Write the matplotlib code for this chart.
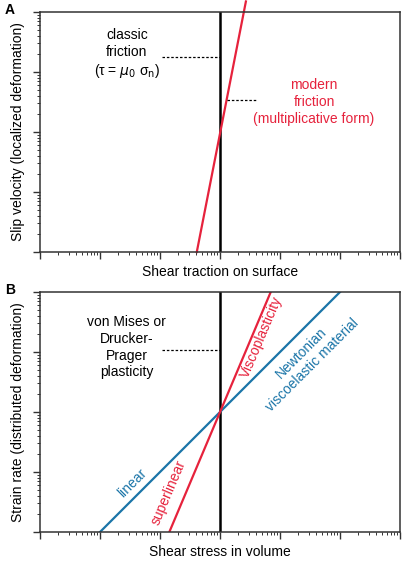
"""Friction vs. flow laws: two log-log sketches (A, B)."""

import matplotlib
import matplotlib.pyplot as plt
from matplotlib.ticker import LogLocator, NullFormatter

matplotlib.use("Agg")

plt.rcParams["font.family"] = ["Liberation Sans", "DejaVu Sans"]
plt.rcParams["font.size"] = 10

RED = "#e6223c"
BLUE = "#1b75a8"

# panel A
friction_x = [410, 2700]
friction_y = [1, 15000]
threshold_a_x = [1000, 1000]
threshold_a_y = [1, 10000]
classic_guide_x = [107, 1000]
classic_guide_y = [1760, 1760]
modern_guide_x = [1290, 4200]
modern_guide_y = [340, 340]

# panel B
linear_x = [10, 100000]
linear_y = [1, 10000]
superlinear_x = [143, 7000]
superlinear_y = [1, 10000]
threshold_b_x = [1000, 1000]
threshold_b_y = [1, 10000]
plastic_guide_x = [107, 1000]
plastic_guide_y = [1070, 1070]

fig = plt.figure(figsize=(4.16, 5.61), dpi=100)
ax_a = fig.add_axes([0.0962, 0.5508, 0.8654, 0.4278])
ax_b = fig.add_axes([0.0962, 0.0517, 0.8654, 0.4278])


def _style(ax, xlabel, ylabel):
    ax.set_xscale("log")
    ax.set_yscale("log")
    ax.set_xlim(1, 1e6)
    ax.set_ylim(1, 1e4)
    ax.xaxis.set_major_locator(LogLocator(base=10, numticks=20))
    ax.yaxis.set_major_locator(LogLocator(base=10, numticks=20))
    ax.xaxis.set_minor_locator(LogLocator(base=10, subs=range(2, 10), numticks=20))
    ax.yaxis.set_minor_locator(LogLocator(base=10, subs=range(2, 10), numticks=20))
    for axis in (ax.xaxis, ax.yaxis):
        axis.set_major_formatter(NullFormatter())
        axis.set_minor_formatter(NullFormatter())
    ax.tick_params(which="both", top=False, right=False, direction="out")
    ax.tick_params(which="major", length=5, width=1, color="#333333")
    ax.tick_params(which="minor", length=2.2, width=0.7, color="#333333")
    for spine in ax.spines.values():
        spine.set_color("#333333")
        spine.set_linewidth(1.1)
    ax.set_xlabel(xlabel, labelpad=1)
    ax.set_ylabel(ylabel, labelpad=2)


_style(ax_a, "Shear traction on surface", "Slip velocity (localized deformation)")
ax_a.plot(threshold_a_x, threshold_a_y, color="black", lw=1.8)
ax_a.plot(friction_x, friction_y, color=RED, lw=1.6, clip_on=False)
ax_a.plot(classic_guide_x, classic_guide_y, color="black", lw=0.9, ls=(0, (2, 1.5)))
ax_a.plot(modern_guide_x, modern_guide_y, color="black", lw=0.9, ls=(0, (2, 1.5)))
ax_a.text(28, 2000, "classic\nfriction\n(τ = $\\mu_0$ σ$_\\mathrm{n}$)",
          ha="center", va="center", linespacing=1.25)
ax_a.text(37000, 316, "modern\nfriction\n(multiplicative form)", color=RED,
          ha="center", va="center", linespacing=1.25)

_style(ax_b, "Shear stress in volume", "Strain rate (distributed deformation)")
ax_b.plot(threshold_b_x, threshold_b_y, color="black", lw=1.8)
ax_b.plot(linear_x, linear_y, color=BLUE, lw=1.6)
ax_b.plot(superlinear_x, superlinear_y, color=RED, lw=1.6)
ax_b.plot(plastic_guide_x, plastic_guide_y, color="black", lw=0.9, ls=(0, (2, 1.5)))
ax_b.text(28, 1200, "von Mises or\nDrucker-\nPrager\nplasticity",
          ha="center", va="center", linespacing=1.25)
ax_b.text(5000, 1780, "Viscoplasticity", color=RED, rotation=67,
          ha="center", va="center", rotation_mode="anchor")
ax_b.text(28000, 760, "Newtonian\nviscoelastic material", color=BLUE, rotation=45,
          ha="center", va="center", rotation_mode="anchor", linespacing=1.25)
ax_b.text(34, 6.5, "linear", color=BLUE, rotation=45,
          ha="center", va="center", rotation_mode="anchor")
ax_b.text(140, 4.5, "superlinear", color=RED, rotation=67,
          ha="center", va="center", rotation_mode="anchor")

fig.text(0.024, 0.982, "A", fontweight="bold", ha="center", va="center")
fig.text(0.024, 0.483, "B", fontweight="bold", ha="center", va="center")

fig.savefig("out.png", dpi=100, facecolor="white")
